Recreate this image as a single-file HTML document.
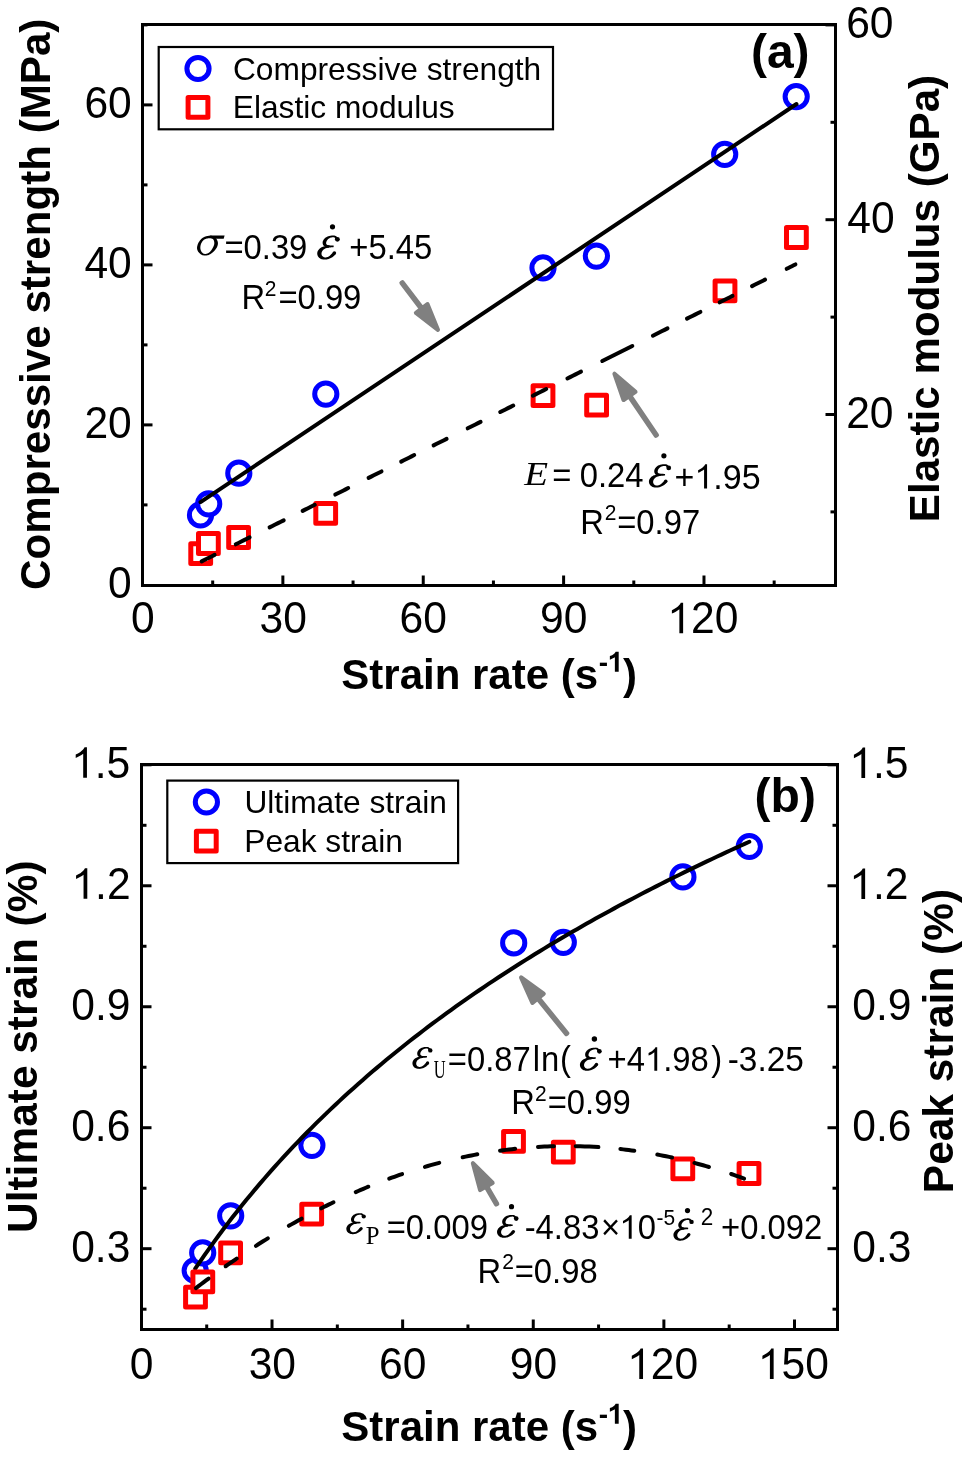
<!DOCTYPE html>
<html><head><meta charset="utf-8"><style>
html,body{margin:0;padding:0;background:#fff;}
body{width:969px;height:1457px;overflow:hidden;font-family:"Liberation Sans",sans-serif;}
svg{display:block;will-change:transform;} text{font-kerning:none;}
</style></head><body>
<svg width="969" height="1457" viewBox="0 0 969 1457">
<rect width="969" height="1457" fill="#fff"/>
<line x1="212.69" y1="585.5" x2="212.69" y2="580.50" stroke="#000" stroke-width="3"/>
<line x1="282.87" y1="585.5" x2="282.87" y2="575.50" stroke="#000" stroke-width="3"/>
<line x1="353.06" y1="585.5" x2="353.06" y2="580.50" stroke="#000" stroke-width="3"/>
<line x1="423.24" y1="585.5" x2="423.24" y2="575.50" stroke="#000" stroke-width="3"/>
<line x1="493.43" y1="585.5" x2="493.43" y2="580.50" stroke="#000" stroke-width="3"/>
<line x1="563.61" y1="585.5" x2="563.61" y2="575.50" stroke="#000" stroke-width="3"/>
<line x1="633.80" y1="585.5" x2="633.80" y2="580.50" stroke="#000" stroke-width="3"/>
<line x1="703.98" y1="585.5" x2="703.98" y2="575.50" stroke="#000" stroke-width="3"/>
<line x1="774.17" y1="585.5" x2="774.17" y2="580.50" stroke="#000" stroke-width="3"/>
<line x1="142.5" y1="504.90" x2="147.50" y2="504.90" stroke="#000" stroke-width="3"/>
<line x1="142.5" y1="424.90" x2="152.50" y2="424.90" stroke="#000" stroke-width="3"/>
<line x1="142.5" y1="344.90" x2="147.50" y2="344.90" stroke="#000" stroke-width="3"/>
<line x1="142.5" y1="264.90" x2="152.50" y2="264.90" stroke="#000" stroke-width="3"/>
<line x1="142.5" y1="184.90" x2="147.50" y2="184.90" stroke="#000" stroke-width="3"/>
<line x1="142.5" y1="104.90" x2="152.50" y2="104.90" stroke="#000" stroke-width="3"/>
<line x1="142.5" y1="24.90" x2="147.50" y2="24.90" stroke="#000" stroke-width="3"/>
<line x1="835.5" y1="511.90" x2="830.50" y2="511.90" stroke="#000" stroke-width="3"/>
<line x1="835.5" y1="414.50" x2="825.50" y2="414.50" stroke="#000" stroke-width="3"/>
<line x1="835.5" y1="317.10" x2="830.50" y2="317.10" stroke="#000" stroke-width="3"/>
<line x1="835.5" y1="219.70" x2="825.50" y2="219.70" stroke="#000" stroke-width="3"/>
<line x1="835.5" y1="122.30" x2="830.50" y2="122.30" stroke="#000" stroke-width="3"/>
<line x1="835.5" y1="24.90" x2="825.50" y2="24.90" stroke="#000" stroke-width="3"/>
<line x1="206.71" y1="1329.5" x2="206.71" y2="1324.50" stroke="#000" stroke-width="3"/>
<line x1="272.02" y1="1329.5" x2="272.02" y2="1319.50" stroke="#000" stroke-width="3"/>
<line x1="337.33" y1="1329.5" x2="337.33" y2="1324.50" stroke="#000" stroke-width="3"/>
<line x1="402.64" y1="1329.5" x2="402.64" y2="1319.50" stroke="#000" stroke-width="3"/>
<line x1="467.95" y1="1329.5" x2="467.95" y2="1324.50" stroke="#000" stroke-width="3"/>
<line x1="533.26" y1="1329.5" x2="533.26" y2="1319.50" stroke="#000" stroke-width="3"/>
<line x1="598.57" y1="1329.5" x2="598.57" y2="1324.50" stroke="#000" stroke-width="3"/>
<line x1="663.88" y1="1329.5" x2="663.88" y2="1319.50" stroke="#000" stroke-width="3"/>
<line x1="729.19" y1="1329.5" x2="729.19" y2="1324.50" stroke="#000" stroke-width="3"/>
<line x1="794.50" y1="1329.5" x2="794.50" y2="1319.50" stroke="#000" stroke-width="3"/>
<line x1="141.5" y1="1309.19" x2="146.50" y2="1309.19" stroke="#000" stroke-width="3"/>
<line x1="837.5" y1="1309.19" x2="832.50" y2="1309.19" stroke="#000" stroke-width="3"/>
<line x1="141.5" y1="1248.70" x2="151.50" y2="1248.70" stroke="#000" stroke-width="3"/>
<line x1="837.5" y1="1248.70" x2="827.50" y2="1248.70" stroke="#000" stroke-width="3"/>
<line x1="141.5" y1="1188.21" x2="146.50" y2="1188.21" stroke="#000" stroke-width="3"/>
<line x1="837.5" y1="1188.21" x2="832.50" y2="1188.21" stroke="#000" stroke-width="3"/>
<line x1="141.5" y1="1127.72" x2="151.50" y2="1127.72" stroke="#000" stroke-width="3"/>
<line x1="837.5" y1="1127.72" x2="827.50" y2="1127.72" stroke="#000" stroke-width="3"/>
<line x1="141.5" y1="1067.24" x2="146.50" y2="1067.24" stroke="#000" stroke-width="3"/>
<line x1="837.5" y1="1067.24" x2="832.50" y2="1067.24" stroke="#000" stroke-width="3"/>
<line x1="141.5" y1="1006.75" x2="151.50" y2="1006.75" stroke="#000" stroke-width="3"/>
<line x1="837.5" y1="1006.75" x2="827.50" y2="1006.75" stroke="#000" stroke-width="3"/>
<line x1="141.5" y1="946.26" x2="146.50" y2="946.26" stroke="#000" stroke-width="3"/>
<line x1="837.5" y1="946.26" x2="832.50" y2="946.26" stroke="#000" stroke-width="3"/>
<line x1="141.5" y1="885.77" x2="151.50" y2="885.77" stroke="#000" stroke-width="3"/>
<line x1="837.5" y1="885.77" x2="827.50" y2="885.77" stroke="#000" stroke-width="3"/>
<line x1="141.5" y1="825.29" x2="146.50" y2="825.29" stroke="#000" stroke-width="3"/>
<line x1="837.5" y1="825.29" x2="832.50" y2="825.29" stroke="#000" stroke-width="3"/>
<line x1="141.5" y1="764.80" x2="151.50" y2="764.80" stroke="#000" stroke-width="3"/>
<line x1="837.5" y1="764.80" x2="827.50" y2="764.80" stroke="#000" stroke-width="3"/>
<rect x="142.5" y="24.5" width="693.0" height="561.0" fill="none" stroke="#000" stroke-width="3"/>
<rect x="141.5" y="764.5" width="696.0" height="565.0" fill="none" stroke="#000" stroke-width="3"/>
<text transform="translate(108.07,598.20) scale(1,1.035)" font-family="Liberation Sans" font-weight="normal" font-size="42.6" fill="#000">0</text>
<text transform="translate(84.38,438.20) scale(1,1.035)" font-family="Liberation Sans" font-weight="normal" font-size="42.6" fill="#000">20</text>
<text transform="translate(84.38,278.20) scale(1,1.035)" font-family="Liberation Sans" font-weight="normal" font-size="42.6" fill="#000">40</text>
<text transform="translate(84.38,118.20) scale(1,1.035)" font-family="Liberation Sans" font-weight="normal" font-size="42.6" fill="#000">60</text>
<text transform="translate(846.16,427.60) scale(1,1.035)" font-family="Liberation Sans" font-weight="normal" font-size="42.6" fill="#000">20</text>
<text transform="translate(847.32,232.80) scale(1,1.035)" font-family="Liberation Sans" font-weight="normal" font-size="42.6" fill="#000">40</text>
<text transform="translate(846.14,38.00) scale(1,1.035)" font-family="Liberation Sans" font-weight="normal" font-size="42.6" fill="#000">60</text>
<text transform="translate(130.95,633.30) scale(1,1.035)" font-family="Liberation Sans" font-weight="normal" font-size="42.6" fill="#000">0</text>
<text transform="translate(259.50,633.30) scale(1,1.035)" font-family="Liberation Sans" font-weight="normal" font-size="42.6" fill="#000">30</text>
<text transform="translate(399.60,633.30) scale(1,1.035)" font-family="Liberation Sans" font-weight="normal" font-size="42.6" fill="#000">60</text>
<text transform="translate(540.05,633.30) scale(1,1.035)" font-family="Liberation Sans" font-weight="normal" font-size="42.6" fill="#000">90</text>
<path transform="translate(667.25,633.30)" d="M12.13,0.00 L15.87,0.00 L15.87,-30.49 L13.52,-30.49 L12.94,-29.37 L12.02,-28.21 L10.65,-26.87 L8.94,-25.54 L6.86,-24.30 L4.64,-23.09 L4.64,-19.72 L6.61,-20.59 L8.53,-21.63 L10.40,-22.76 L12.13,-23.96 Z" fill="#000"/>
<text transform="translate(690.95,633.30) scale(1,1.035)" font-family="Liberation Sans" font-weight="normal" font-size="42.6" fill="#000">20</text>
<text transform="translate(71.15,1261.60) scale(1,1.035)" font-family="Liberation Sans" font-weight="normal" font-size="42.6" fill="#000">0.3</text>
<text transform="translate(71.15,1140.62) scale(1,1.035)" font-family="Liberation Sans" font-weight="normal" font-size="42.6" fill="#000">0.6</text>
<text transform="translate(71.30,1019.65) scale(1,1.035)" font-family="Liberation Sans" font-weight="normal" font-size="42.6" fill="#000">0.9</text>
<path transform="translate(71.42,898.67)" d="M12.13,0.00 L15.87,0.00 L15.87,-30.49 L13.52,-30.49 L12.94,-29.37 L12.02,-28.21 L10.65,-26.87 L8.94,-25.54 L6.86,-24.30 L4.64,-23.09 L4.64,-19.72 L6.61,-20.59 L8.53,-21.63 L10.40,-22.76 L12.13,-23.96 Z" fill="#000"/>
<text transform="translate(95.11,898.67) scale(1,1.035)" font-family="Liberation Sans" font-weight="normal" font-size="42.6" fill="#000">.2</text>
<path transform="translate(71.07,777.70)" d="M12.13,0.00 L15.87,0.00 L15.87,-30.49 L13.52,-30.49 L12.94,-29.37 L12.02,-28.21 L10.65,-26.87 L8.94,-25.54 L6.86,-24.30 L4.64,-23.09 L4.64,-19.72 L6.61,-20.59 L8.53,-21.63 L10.40,-22.76 L12.13,-23.96 Z" fill="#000"/>
<text transform="translate(94.76,777.70) scale(1,1.035)" font-family="Liberation Sans" font-weight="normal" font-size="42.6" fill="#000">.5</text>
<text transform="translate(852.24,1261.80) scale(1,1.035)" font-family="Liberation Sans" font-weight="normal" font-size="42.6" fill="#000">0.3</text>
<text transform="translate(852.24,1140.82) scale(1,1.035)" font-family="Liberation Sans" font-weight="normal" font-size="42.6" fill="#000">0.6</text>
<text transform="translate(852.24,1019.85) scale(1,1.035)" font-family="Liberation Sans" font-weight="normal" font-size="42.6" fill="#000">0.9</text>
<path transform="translate(849.26,898.88)" d="M12.13,0.00 L15.87,0.00 L15.87,-30.49 L13.52,-30.49 L12.94,-29.37 L12.02,-28.21 L10.65,-26.87 L8.94,-25.54 L6.86,-24.30 L4.64,-23.09 L4.64,-19.72 L6.61,-20.59 L8.53,-21.63 L10.40,-22.76 L12.13,-23.96 Z" fill="#000"/>
<text transform="translate(872.95,898.88) scale(1,1.035)" font-family="Liberation Sans" font-weight="normal" font-size="42.6" fill="#000">.2</text>
<path transform="translate(849.26,777.90)" d="M12.13,0.00 L15.87,0.00 L15.87,-30.49 L13.52,-30.49 L12.94,-29.37 L12.02,-28.21 L10.65,-26.87 L8.94,-25.54 L6.86,-24.30 L4.64,-23.09 L4.64,-19.72 L6.61,-20.59 L8.53,-21.63 L10.40,-22.76 L12.13,-23.96 Z" fill="#000"/>
<text transform="translate(872.95,777.90) scale(1,1.035)" font-family="Liberation Sans" font-weight="normal" font-size="42.6" fill="#000">.5</text>
<text transform="translate(129.85,1378.90) scale(1,1.035)" font-family="Liberation Sans" font-weight="normal" font-size="42.6" fill="#000">0</text>
<text transform="translate(248.65,1378.90) scale(1,1.035)" font-family="Liberation Sans" font-weight="normal" font-size="42.6" fill="#000">30</text>
<text transform="translate(379.00,1378.90) scale(1,1.035)" font-family="Liberation Sans" font-weight="normal" font-size="42.6" fill="#000">60</text>
<text transform="translate(509.70,1378.90) scale(1,1.035)" font-family="Liberation Sans" font-weight="normal" font-size="42.6" fill="#000">90</text>
<path transform="translate(627.15,1378.90)" d="M12.13,0.00 L15.87,0.00 L15.87,-30.49 L13.52,-30.49 L12.94,-29.37 L12.02,-28.21 L10.65,-26.87 L8.94,-25.54 L6.86,-24.30 L4.64,-23.09 L4.64,-19.72 L6.61,-20.59 L8.53,-21.63 L10.40,-22.76 L12.13,-23.96 Z" fill="#000"/>
<text transform="translate(650.85,1378.90) scale(1,1.035)" font-family="Liberation Sans" font-weight="normal" font-size="42.6" fill="#000">20</text>
<path transform="translate(757.77,1378.90)" d="M12.13,0.00 L15.87,0.00 L15.87,-30.49 L13.52,-30.49 L12.94,-29.37 L12.02,-28.21 L10.65,-26.87 L8.94,-25.54 L6.86,-24.30 L4.64,-23.09 L4.64,-19.72 L6.61,-20.59 L8.53,-21.63 L10.40,-22.76 L12.13,-23.96 Z" fill="#000"/>
<text transform="translate(781.47,1378.90) scale(1,1.035)" font-family="Liberation Sans" font-weight="normal" font-size="42.6" fill="#000">50</text>
<text transform="translate(49.70,589.99) rotate(-90)" font-family="Liberation Sans" font-weight="bold" font-style="normal" font-size="42.15">Compressive strength (MPa)</text>
<text transform="translate(938.70,522.14) rotate(-90)" font-family="Liberation Sans" font-weight="bold" font-style="normal" font-size="42.15">Elastic modulus (GPa)</text>
<text transform="translate(36.70,1232.95) rotate(-90)" font-family="Liberation Sans" font-weight="bold" font-style="normal" font-size="42.45">Ultimate strain (%)</text>
<text transform="translate(952.80,1193.16) rotate(-90)" font-family="Liberation Sans" font-weight="bold" font-style="normal" font-size="42.45">Peak strain (%)</text>
<text transform="translate(341.29,689.20)" font-family="Liberation Sans" font-weight="bold" font-size="42" fill="#000">Strain rate (s</text>
<text transform="translate(598.71,671.70)" font-family="Liberation Sans" font-weight="bold" font-size="28" fill="#000">-</text>
<path transform="translate(608.03,671.70)" d="M6.84,0.00 L10.66,0.00 L10.66,-20.04 L7.66,-20.04 L7.18,-19.14 L6.43,-18.25 L5.47,-17.36 L4.10,-16.47 L1.83,-15.70 L1.83,-12.03 L3.42,-12.65 L4.92,-13.33 L6.02,-13.95 L6.84,-14.49 Z" fill="#000"/>
<text transform="translate(622.91,689.20)" font-family="Liberation Sans" font-weight="bold" font-size="42" fill="#000">)</text>
<text transform="translate(341.29,1441.20)" font-family="Liberation Sans" font-weight="bold" font-size="42" fill="#000">Strain rate (s</text>
<text transform="translate(598.71,1423.70)" font-family="Liberation Sans" font-weight="bold" font-size="28" fill="#000">-</text>
<path transform="translate(608.03,1423.70)" d="M6.84,0.00 L10.66,0.00 L10.66,-20.04 L7.66,-20.04 L7.18,-19.14 L6.43,-18.25 L5.47,-17.36 L4.10,-16.47 L1.83,-15.70 L1.83,-12.03 L3.42,-12.65 L4.92,-13.33 L6.02,-13.95 L6.84,-14.49 Z" fill="#000"/>
<text transform="translate(622.91,1441.20)" font-family="Liberation Sans" font-weight="bold" font-size="42" fill="#000">)</text>
<text transform="translate(750.91,67.60)" font-family="Liberation Sans" font-weight="bold" font-size="48" fill="#000">(a)</text>
<text transform="translate(754.61,811.70)" font-family="Liberation Sans" font-weight="bold" font-size="48" fill="#000">(b)</text>
<rect x="158.7" y="47" width="394.3" height="82.3" fill="#fff" stroke="#000" stroke-width="2.2"/>
<circle cx="198.00" cy="68.50" r="11.1" fill="#fff" stroke="#0000ff" stroke-width="5"/>
<rect x="188.10" y="97.40" width="19.8" height="19.8" fill="#fff" stroke="#ff0000" stroke-width="5" stroke-linejoin="round"/>
<text transform="translate(232.99,80.00)" font-family="Liberation Sans" font-weight="normal" font-size="31.7" fill="#000">Compressive strength</text>
<text transform="translate(232.80,118.40)" font-family="Liberation Sans" font-weight="normal" font-size="31.7" fill="#000">Elastic modulus</text>
<rect x="167.3" y="780.6" width="290.8" height="82.5" fill="#fff" stroke="#000" stroke-width="2.2"/>
<circle cx="206.40" cy="802.00" r="11.1" fill="#fff" stroke="#0000ff" stroke-width="5"/>
<rect x="196.40" y="831.30" width="19.8" height="19.8" fill="#fff" stroke="#ff0000" stroke-width="5" stroke-linejoin="round"/>
<text transform="translate(244.45,813.00)" font-family="Liberation Sans" font-weight="normal" font-size="31.7" fill="#000">Ultimate strain</text>
<text transform="translate(244.30,852.00)" font-family="Liberation Sans" font-weight="normal" font-size="31.7" fill="#000">Peak strain</text>
<circle cx="200.50" cy="514.90" r="11.1" fill="#fff" stroke="#0000ff" stroke-width="5"/>
<circle cx="208.70" cy="503.90" r="11.1" fill="#fff" stroke="#0000ff" stroke-width="5"/>
<circle cx="238.80" cy="473.20" r="11.1" fill="#fff" stroke="#0000ff" stroke-width="5"/>
<circle cx="325.80" cy="394.10" r="11.1" fill="#fff" stroke="#0000ff" stroke-width="5"/>
<circle cx="543.00" cy="267.80" r="11.1" fill="#fff" stroke="#0000ff" stroke-width="5"/>
<circle cx="596.40" cy="256.10" r="11.1" fill="#fff" stroke="#0000ff" stroke-width="5"/>
<circle cx="724.70" cy="154.30" r="11.1" fill="#fff" stroke="#0000ff" stroke-width="5"/>
<circle cx="796.20" cy="96.60" r="11.1" fill="#fff" stroke="#0000ff" stroke-width="5"/>
<line x1="200.5" y1="502.2" x2="796.5" y2="104" stroke="#000" stroke-width="4.0" stroke-linecap="round"/>
<rect x="190.80" y="543.80" width="19.8" height="19.8" fill="#fff" stroke="#ff0000" stroke-width="5" stroke-linejoin="round"/>
<rect x="198.50" y="533.60" width="19.8" height="19.8" fill="#fff" stroke="#ff0000" stroke-width="5" stroke-linejoin="round"/>
<rect x="228.70" y="527.60" width="19.8" height="19.8" fill="#fff" stroke="#ff0000" stroke-width="5" stroke-linejoin="round"/>
<rect x="315.80" y="503.40" width="19.8" height="19.8" fill="#fff" stroke="#ff0000" stroke-width="5" stroke-linejoin="round"/>
<rect x="533.10" y="385.70" width="19.8" height="19.8" fill="#fff" stroke="#ff0000" stroke-width="5" stroke-linejoin="round"/>
<rect x="586.70" y="395.20" width="19.8" height="19.8" fill="#fff" stroke="#ff0000" stroke-width="5" stroke-linejoin="round"/>
<rect x="715.10" y="281.00" width="19.8" height="19.8" fill="#fff" stroke="#ff0000" stroke-width="5" stroke-linejoin="round"/>
<rect x="786.50" y="227.60" width="19.8" height="19.8" fill="#fff" stroke="#ff0000" stroke-width="5" stroke-linejoin="round"/>
<path d="M201.69,561.36 L204.27,560.06 L206.86,558.77 L209.44,557.48 L212.03,556.19 L214.61,554.89" fill="none" stroke="#000" stroke-width="4.0" stroke-linecap="round" stroke-linejoin="round"/>
<path d="M235.79,544.30 L238.55,542.92 L241.32,541.54 L244.08,540.16 L246.85,538.77 L249.61,537.39" fill="none" stroke="#000" stroke-width="4.0" stroke-linecap="round" stroke-linejoin="round"/>
<path d="M269.59,527.40 L272.41,525.99 L275.24,524.57 L278.06,523.16 L280.89,521.75 L283.71,520.34" fill="none" stroke="#000" stroke-width="4.0" stroke-linecap="round" stroke-linejoin="round"/>
<path d="M302.69,510.85 L305.09,509.64 L307.50,508.44 L309.90,507.24 L312.31,506.04 L314.71,504.83" fill="none" stroke="#000" stroke-width="4.0" stroke-linecap="round" stroke-linejoin="round"/>
<path d="M335.29,494.54 L337.87,493.25 L340.46,491.96 L343.04,490.67 L345.63,489.37 L348.21,488.08" fill="none" stroke="#000" stroke-width="4.0" stroke-linecap="round" stroke-linejoin="round"/>
<path d="M368.59,477.89 L371.17,476.60 L373.76,475.31 L376.34,474.01 L378.93,472.72 L381.51,471.43" fill="none" stroke="#000" stroke-width="4.0" stroke-linecap="round" stroke-linejoin="round"/>
<path d="M401.19,461.59 L403.79,460.29 L406.40,458.98 L409.00,457.68 L411.61,456.38 L414.21,455.08" fill="none" stroke="#000" stroke-width="4.0" stroke-linecap="round" stroke-linejoin="round"/>
<path d="M433.59,445.39 L436.19,444.08 L438.80,442.78 L441.40,441.48 L444.01,440.18 L446.61,438.87" fill="none" stroke="#000" stroke-width="4.0" stroke-linecap="round" stroke-linejoin="round"/>
<path d="M467.69,428.33 L470.27,427.04 L472.86,425.75 L475.44,424.46 L478.03,423.16 L480.61,421.87" fill="none" stroke="#000" stroke-width="4.0" stroke-linecap="round" stroke-linejoin="round"/>
<path d="M500.29,412.03 L502.87,410.74 L505.46,409.45 L508.04,408.15 L510.63,406.86 L513.21,405.57" fill="none" stroke="#000" stroke-width="4.0" stroke-linecap="round" stroke-linejoin="round"/>
<path d="M532.89,395.73 L535.55,394.40 L538.22,393.06 L540.88,391.73 L543.55,390.40 L546.21,389.07" fill="none" stroke="#000" stroke-width="4.0" stroke-linecap="round" stroke-linejoin="round"/>
<path d="M567.39,378.47 L570.11,377.11 L572.84,375.75 L575.56,374.39 L578.29,373.02 L581.01,371.66" fill="none" stroke="#000" stroke-width="4.0" stroke-linecap="round" stroke-linejoin="round"/>
<path d="M602.29,361.02 L608.29,358.02 L614.30,355.02 L620.30,352.01 L626.31,349.01 L632.31,346.01" fill="none" stroke="#000" stroke-width="4.0" stroke-linecap="round" stroke-linejoin="round"/>
<path d="M652.89,335.72 L655.81,334.26 L658.74,332.79 L661.66,331.33 L664.59,329.87 L667.51,328.41" fill="none" stroke="#000" stroke-width="4.0" stroke-linecap="round" stroke-linejoin="round"/>
<path d="M686.99,318.66 L689.67,317.32 L692.36,315.98 L695.04,314.64 L697.73,313.29 L700.41,311.95" fill="none" stroke="#000" stroke-width="4.0" stroke-linecap="round" stroke-linejoin="round"/>
<path d="M719.69,302.31 L722.25,301.03 L724.82,299.75 L727.38,298.46 L729.95,297.18 L732.51,295.90" fill="none" stroke="#000" stroke-width="4.0" stroke-linecap="round" stroke-linejoin="round"/>
<path d="M752.09,286.11 L754.67,284.82 L757.26,283.52 L759.84,282.23 L762.43,280.94 L765.01,279.65" fill="none" stroke="#000" stroke-width="4.0" stroke-linecap="round" stroke-linejoin="round"/>
<path d="M786.69,268.81 L788.43,267.93 L790.18,267.06 L791.92,266.19 L793.67,265.32 L795.41,264.44" fill="none" stroke="#000" stroke-width="4.0" stroke-linecap="round" stroke-linejoin="round"/>
<circle cx="195.20" cy="1270.50" r="11.1" fill="#fff" stroke="#0000ff" stroke-width="5"/>
<circle cx="202.70" cy="1252.80" r="11.1" fill="#fff" stroke="#0000ff" stroke-width="5"/>
<circle cx="230.70" cy="1215.80" r="11.1" fill="#fff" stroke="#0000ff" stroke-width="5"/>
<circle cx="311.90" cy="1145.30" r="11.1" fill="#fff" stroke="#0000ff" stroke-width="5"/>
<circle cx="513.70" cy="942.90" r="11.1" fill="#fff" stroke="#0000ff" stroke-width="5"/>
<circle cx="563.30" cy="942.30" r="11.1" fill="#fff" stroke="#0000ff" stroke-width="5"/>
<circle cx="682.90" cy="876.90" r="11.1" fill="#fff" stroke="#0000ff" stroke-width="5"/>
<circle cx="749.30" cy="846.50" r="11.1" fill="#fff" stroke="#0000ff" stroke-width="5"/>
<path d="M195.20,1268.74 L199.86,1261.90 L204.51,1255.18 L209.17,1248.59 L213.83,1242.12 L218.48,1235.76 L223.14,1229.52 L227.79,1223.38 L232.45,1217.34 L237.11,1211.41 L241.76,1205.57 L246.42,1199.82 L251.08,1194.17 L255.73,1188.60 L260.39,1183.12 L265.04,1177.73 L269.70,1172.41 L274.36,1167.17 L279.01,1162.00 L283.67,1156.91 L288.33,1151.89 L292.98,1146.94 L297.64,1142.06 L302.29,1137.25 L306.95,1132.49 L311.61,1127.80 L316.26,1123.17 L320.92,1118.60 L325.58,1114.09 L330.23,1109.63 L334.89,1105.23 L339.55,1100.88 L344.20,1096.59 L348.86,1092.34 L353.51,1088.15 L358.17,1084.00 L362.83,1079.90 L367.48,1075.85 L372.14,1071.84 L376.80,1067.88 L381.45,1063.96 L386.11,1060.08 L390.76,1056.25 L395.42,1052.45 L400.08,1048.70 L404.73,1044.98 L409.39,1041.30 L414.05,1037.66 L418.70,1034.06 L423.36,1030.49 L428.02,1026.96 L432.67,1023.46 L437.33,1020.00 L441.98,1016.57 L446.64,1013.17 L451.30,1009.80 L455.95,1006.47 L460.61,1003.16 L465.27,999.89 L469.92,996.65 L474.58,993.43 L479.23,990.25 L483.89,987.09 L488.55,983.96 L493.20,980.85 L497.86,977.78 L502.52,974.73 L507.17,971.70 L511.83,968.70 L516.48,965.73 L521.14,962.78 L525.80,959.85 L530.45,956.95 L535.11,954.07 L539.77,951.22 L544.42,948.38 L549.08,945.57 L553.74,942.78 L558.39,940.02 L563.05,937.27 L567.70,934.54 L572.36,931.84 L577.02,929.16 L581.67,926.49 L586.33,923.85 L590.99,921.22 L595.64,918.62 L600.30,916.03 L604.95,913.46 L609.61,910.91 L614.27,908.38 L618.92,905.86 L623.58,903.37 L628.24,900.89 L632.89,898.42 L637.55,895.98 L642.21,893.55 L646.86,891.14 L651.52,888.74 L656.17,886.36 L660.83,883.99 L665.49,881.64 L670.14,879.31 L674.80,876.99 L679.46,874.69 L684.11,872.40 L688.77,870.12 L693.42,867.86 L698.08,865.62 L702.74,863.39 L707.39,861.17 L712.05,858.96 L716.71,856.77 L721.36,854.59 L726.02,852.43 L730.67,850.28 L735.33,848.14 L739.99,846.01 L744.64,843.90 L749.30,841.80" fill="none" stroke="#000" stroke-width="4.0" stroke-linecap="round" stroke-linejoin="round"/>
<rect x="185.60" y="1287.20" width="19.8" height="19.8" fill="#fff" stroke="#ff0000" stroke-width="5" stroke-linejoin="round"/>
<rect x="192.90" y="1272.00" width="19.8" height="19.8" fill="#fff" stroke="#ff0000" stroke-width="5" stroke-linejoin="round"/>
<rect x="220.70" y="1242.90" width="19.8" height="19.8" fill="#fff" stroke="#ff0000" stroke-width="5" stroke-linejoin="round"/>
<rect x="301.80" y="1204.30" width="19.8" height="19.8" fill="#fff" stroke="#ff0000" stroke-width="5" stroke-linejoin="round"/>
<rect x="503.60" y="1131.50" width="19.8" height="19.8" fill="#fff" stroke="#ff0000" stroke-width="5" stroke-linejoin="round"/>
<rect x="553.40" y="1142.20" width="19.8" height="19.8" fill="#fff" stroke="#ff0000" stroke-width="5" stroke-linejoin="round"/>
<rect x="672.90" y="1158.90" width="19.8" height="19.8" fill="#fff" stroke="#ff0000" stroke-width="5" stroke-linejoin="round"/>
<rect x="739.10" y="1163.60" width="19.8" height="19.8" fill="#fff" stroke="#ff0000" stroke-width="5" stroke-linejoin="round"/>
<path d="M195.89,1288.11 L198.43,1286.17 L200.97,1284.25 L203.51,1282.33 L206.05,1280.43 L208.59,1278.55" fill="none" stroke="#000" stroke-width="4.0" stroke-linecap="round" stroke-linejoin="round"/>
<path d="M225.63,1266.24 L227.85,1264.68 L230.08,1263.13 L232.30,1261.59 L234.52,1260.06 L236.74,1258.54" fill="none" stroke="#000" stroke-width="4.0" stroke-linecap="round" stroke-linejoin="round"/>
<path d="M255.98,1245.81 L258.34,1244.30 L260.71,1242.80 L263.07,1241.31 L265.43,1239.83 L267.80,1238.37" fill="none" stroke="#000" stroke-width="4.0" stroke-linecap="round" stroke-linejoin="round"/>
<path d="M288.83,1225.84 L291.39,1224.37 L293.96,1222.92 L296.52,1221.48 L299.08,1220.06 L301.64,1218.65" fill="none" stroke="#000" stroke-width="4.0" stroke-linecap="round" stroke-linejoin="round"/>
<path d="M321.28,1208.30 L323.72,1207.06 L326.17,1205.84 L328.61,1204.64 L331.05,1203.44 L333.50,1202.26" fill="none" stroke="#000" stroke-width="4.0" stroke-linecap="round" stroke-linejoin="round"/>
<path d="M355.73,1192.06 L358.25,1190.96 L360.78,1189.88 L363.30,1188.82 L365.82,1187.76 L368.35,1186.72" fill="none" stroke="#000" stroke-width="4.0" stroke-linecap="round" stroke-linejoin="round"/>
<path d="M389.18,1178.64 L391.76,1177.69 L394.35,1176.77 L396.93,1175.85 L399.52,1174.95 L402.10,1174.07" fill="none" stroke="#000" stroke-width="4.0" stroke-linecap="round" stroke-linejoin="round"/>
<path d="M424.92,1166.85 L427.79,1166.02 L430.66,1165.20 L433.53,1164.40 L436.39,1163.62 L439.26,1162.86" fill="none" stroke="#000" stroke-width="4.0" stroke-linecap="round" stroke-linejoin="round"/>
<path d="M462.65,1157.26 L465.59,1156.64 L468.52,1156.04 L471.46,1155.45 L474.40,1154.88 L477.33,1154.33" fill="none" stroke="#000" stroke-width="4.0" stroke-linecap="round" stroke-linejoin="round"/>
<path d="M500.08,1150.67 L503.09,1150.26 L506.09,1149.87 L509.10,1149.51 L512.10,1149.16 L515.11,1148.83" fill="none" stroke="#000" stroke-width="4.0" stroke-linecap="round" stroke-linejoin="round"/>
<path d="M538.00,1146.93 L541.18,1146.75 L544.36,1146.59 L547.54,1146.46 L550.72,1146.34 L553.90,1146.25" fill="none" stroke="#000" stroke-width="4.0" stroke-linecap="round" stroke-linejoin="round"/>
<path d="M575.70,1146.16 L580.24,1146.27 L584.78,1146.41 L589.32,1146.60 L593.86,1146.84 L598.40,1147.11" fill="none" stroke="#000" stroke-width="4.0" stroke-linecap="round" stroke-linejoin="round"/>
<path d="M620.39,1149.05 L623.18,1149.37 L625.96,1149.70 L628.75,1150.05 L631.53,1150.42 L634.32,1150.80" fill="none" stroke="#000" stroke-width="4.0" stroke-linecap="round" stroke-linejoin="round"/>
<path d="M657.27,1154.54 L660.22,1155.11 L663.18,1155.69 L666.14,1156.28 L669.09,1156.90 L672.05,1157.53" fill="none" stroke="#000" stroke-width="4.0" stroke-linecap="round" stroke-linejoin="round"/>
<path d="M694.44,1162.92 L697.35,1163.70 L700.25,1164.49 L703.16,1165.30 L706.07,1166.13 L708.98,1166.98" fill="none" stroke="#000" stroke-width="4.0" stroke-linecap="round" stroke-linejoin="round"/>
<path d="M731.20,1174.01 L733.78,1174.90 L736.37,1175.80 L738.95,1176.71 L741.54,1177.64 L744.12,1178.58" fill="none" stroke="#000" stroke-width="4.0" stroke-linecap="round" stroke-linejoin="round"/>
<path d="M401.45,282.96 L421.18,308.90 L415.97,312.86 L437.91,329.81 L427.43,304.14 L422.22,308.11 L402.49,282.18 Z" fill="#808080" stroke="#808080" stroke-width="4.2" stroke-linejoin="round"/>
<path d="M656.96,435.10 L630.07,395.55 L635.48,391.86 L614.48,373.77 L623.58,399.96 L628.99,396.28 L655.88,435.83 Z" fill="#808080" stroke="#808080" stroke-width="4.2" stroke-linejoin="round"/>
<path d="M567.28,1033.26 L538.55,997.91 L543.63,993.77 L521.16,977.54 L532.45,1002.86 L537.54,998.73 L566.27,1034.08 Z" fill="#808080" stroke="#808080" stroke-width="4.2" stroke-linejoin="round"/>
<path d="M497.21,1203.86 L486.91,1186.11 L492.58,1182.82 L472.92,1163.27 L480.12,1190.04 L485.79,1186.76 L496.08,1204.51 Z" fill="#808080" stroke="#808080" stroke-width="4.2" stroke-linejoin="round"/>
<path d="M197.06,248.73 L197.22,249.53 L197.47,250.30 L197.80,251.01 L198.20,251.68 L198.64,252.30 L199.11,252.86 L199.61,253.37 L200.13,253.83 L200.67,254.23 L201.25,254.59 L201.87,254.89 L202.50,255.15 L203.16,255.36 L203.83,255.51 L204.51,255.60 L205.19,255.62 L205.87,255.59 L206.56,255.50 L207.28,255.36 L208.00,255.17 L208.73,254.92 L209.46,254.62 L210.18,254.26 L210.89,253.84 L211.60,253.34 L212.33,252.76 L213.05,252.12 L213.76,251.44 L214.43,250.72 L215.07,250.00 L215.64,249.29 L216.13,248.60 L216.55,247.92 L216.93,247.24 L217.26,246.54 L217.53,245.83 L217.74,245.10 L217.88,244.35 L217.94,243.59 L217.91,242.82 L217.80,242.05 L217.59,241.28 L217.30,240.52 L216.96,239.79 L216.55,239.09 L216.09,238.44 L215.57,237.84 L215.00,237.30 L214.38,236.86 L213.72,236.51 L213.03,236.23 L212.32,236.02 L211.60,235.87 L210.87,235.77 L210.14,235.72 L209.41,235.72 L208.66,235.78 L207.88,235.88 L207.07,236.03 L206.26,236.23 L205.44,236.48 L204.65,236.78 L203.88,237.13 L203.15,237.53 L202.47,237.99 L201.82,238.50 L201.21,239.07 L200.62,239.67 L200.08,240.30 L199.57,240.96 L199.12,241.64 L198.71,242.33 L198.33,243.05 L197.99,243.81 L197.68,244.60 L197.42,245.42 L197.22,246.25 L197.08,247.08 L197.03,247.91 Z M200.35,247.91 L200.36,247.35 L200.40,246.73 L200.47,246.09 L200.58,245.42 L200.74,244.76 L200.93,244.13 L201.16,243.54 L201.43,242.98 L201.76,242.40 L202.12,241.82 L202.53,241.27 L202.96,240.75 L203.43,240.28 L203.91,239.86 L204.40,239.51 L204.93,239.21 L205.52,238.95 L206.17,238.73 L206.85,238.55 L207.54,238.42 L208.22,238.32 L208.87,238.27 L209.46,238.25 L210.03,238.27 L210.59,238.32 L211.14,238.40 L211.66,238.52 L212.13,238.67 L212.55,238.86 L212.90,239.08 L213.17,239.33 L213.40,239.63 L213.63,240.03 L213.83,240.51 L214.00,241.03 L214.13,241.57 L214.22,242.11 L214.28,242.61 L214.30,243.06 L214.29,243.47 L214.26,243.89 L214.19,244.33 L214.08,244.79 L213.94,245.29 L213.75,245.81 L213.52,246.36 L213.26,246.93 L212.94,247.55 L212.55,248.24 L212.11,248.96 L211.64,249.69 L211.13,250.40 L210.61,251.06 L210.10,251.65 L209.60,252.13 L209.09,252.54 L208.55,252.91 L207.98,253.22 L207.41,253.49 L206.83,253.70 L206.26,253.85 L205.71,253.94 L205.19,253.97 L204.71,253.93 L204.22,253.81 L203.74,253.64 L203.28,253.41 L202.84,253.14 L202.44,252.83 L202.08,252.50 L201.76,252.15 L201.48,251.76 L201.22,251.33 L200.98,250.85 L200.79,250.35 L200.63,249.84 L200.50,249.34 L200.42,248.86 L200.37,248.40 Z " fill="#000" fill-rule="evenodd"/><path d="M209.44,235.38 L224.60,235.38 L223.67,238.84 L213.08,238.84 Z " fill="#000"/>
<text transform="translate(224.40,258.70) scale(1,1.045)" font-family="Liberation Sans" font-weight="normal" font-size="32.8" fill="#000">=0.39</text>
<path d="M337.56,237.60 L337.36,237.43 L337.17,237.25 L336.97,237.04 L336.74,236.80 L336.49,236.56 L336.21,236.31 L335.89,236.07 L335.54,235.88 L335.19,235.74 L334.85,235.64 L334.51,235.57 L334.18,235.53 L333.84,235.51 L333.50,235.51 L333.16,235.52 L332.79,235.53 L332.40,235.54 L331.97,235.56 L331.51,235.60 L331.03,235.64 L330.53,235.70 L330.03,235.78 L329.53,235.88 L329.04,236.00 L328.57,236.15 L328.10,236.31 L327.62,236.49 L327.15,236.69 L326.69,236.92 L326.23,237.17 L325.79,237.45 L325.37,237.77 L324.97,238.12 L324.59,238.49 L324.23,238.89 L323.89,239.30 L323.59,239.74 L323.32,240.18 L323.08,240.64 L322.89,241.12 L322.75,241.62 L322.66,242.12 L322.62,242.62 L322.63,243.11 L322.69,243.58 L322.79,244.05 L322.93,244.50 L323.13,244.94 L323.39,245.37 L323.70,245.75 L324.04,246.06 L324.39,246.32 L324.75,246.53 L325.10,246.72 L325.45,246.87 L325.80,247.02 L326.20,247.15 L326.59,247.25 L326.97,247.31 L327.33,247.35 L327.67,247.37 L327.99,247.39 L328.29,247.41 L328.59,247.44 L329.02,245.54 L328.70,245.43 L328.37,245.33 L328.05,245.24 L327.76,245.16 L327.50,245.06 L327.28,244.97 L327.11,244.87 L326.96,244.75 L326.79,244.61 L326.62,244.44 L326.46,244.26 L326.34,244.09 L326.25,243.93 L326.19,243.79 L326.17,243.69 L326.16,243.60 L326.16,243.49 L326.14,243.33 L326.13,243.16 L326.13,242.97 L326.14,242.77 L326.17,242.57 L326.20,242.37 L326.24,242.18 L326.30,241.96 L326.40,241.69 L326.52,241.39 L326.66,241.07 L326.83,240.75 L327.01,240.44 L327.20,240.15 L327.39,239.88 L327.61,239.63 L327.86,239.37 L328.13,239.12 L328.43,238.87 L328.76,238.63 L329.09,238.40 L329.44,238.20 L329.78,238.02 L330.12,237.86 L330.50,237.73 L330.90,237.61 L331.32,237.51 L331.74,237.43 L332.14,237.36 L332.53,237.31 L332.88,237.28 L333.20,237.27 L333.48,237.27 L333.74,237.28 L333.95,237.31 L334.14,237.36 L334.31,237.42 L334.45,237.50 L334.58,237.58 L334.68,237.67 L334.77,237.80 L334.87,237.97 L334.99,238.17 L335.12,238.42 L335.27,238.68 L335.44,238.97 L335.62,239.24 Z " fill="#000"/>
<path d="M328.66,245.82 L328.19,245.86 L327.73,245.89 L327.24,245.92 L326.74,245.95 L326.23,245.99 L325.69,246.05 L325.13,246.15 L324.57,246.28 L324.02,246.43 L323.45,246.59 L322.87,246.78 L322.28,247.00 L321.69,247.25 L321.11,247.54 L320.55,247.88 L320.02,248.27 L319.53,248.70 L319.08,249.16 L318.66,249.65 L318.28,250.18 L317.93,250.75 L317.64,251.35 L317.42,251.98 L317.27,252.65 L317.22,253.33 L317.25,254.00 L317.36,254.65 L317.53,255.28 L317.77,255.89 L318.08,256.48 L318.45,257.03 L318.88,257.53 L319.36,257.97 L319.90,258.34 L320.47,258.65 L321.06,258.91 L321.67,259.13 L322.28,259.31 L322.90,259.44 L323.52,259.54 L324.15,259.59 L324.79,259.60 L325.43,259.57 L326.07,259.50 L326.71,259.41 L327.34,259.30 L327.94,259.17 L328.54,259.01 L329.13,258.81 L329.71,258.58 L330.27,258.33 L330.82,258.06 L331.34,257.77 L331.83,257.49 L332.30,257.20 L332.74,256.92 L333.17,256.61 L333.58,256.27 L333.96,255.94 L334.30,255.61 L334.62,255.29 L334.92,254.99 L335.21,254.71 L335.52,254.42 L333.14,252.11 L332.84,252.46 L332.54,252.81 L332.26,253.14 L332.00,253.46 L331.74,253.76 L331.48,254.05 L331.22,254.33 L330.92,254.62 L330.57,254.94 L330.20,255.29 L329.83,255.63 L329.45,255.96 L329.06,256.27 L328.67,256.55 L328.27,256.79 L327.86,256.97 L327.40,257.12 L326.90,257.25 L326.38,257.34 L325.86,257.40 L325.34,257.43 L324.84,257.41 L324.39,257.35 L323.99,257.24 L323.62,257.09 L323.26,256.87 L322.91,256.62 L322.59,256.33 L322.31,256.03 L322.07,255.73 L321.89,255.45 L321.78,255.22 L321.70,255.00 L321.63,254.76 L321.57,254.49 L321.53,254.21 L321.51,253.94 L321.50,253.68 L321.51,253.44 L321.53,253.24 L321.55,253.03 L321.60,252.77 L321.68,252.46 L321.80,252.12 L321.94,251.76 L322.11,251.41 L322.30,251.07 L322.49,250.77 L322.71,250.48 L322.99,250.18 L323.32,249.86 L323.69,249.55 L324.10,249.25 L324.52,248.97 L324.95,248.71 L325.36,248.48 L325.75,248.30 L326.15,248.16 L326.57,248.04 L327.01,247.94 L327.47,247.85 L327.96,247.77 L328.45,247.67 L328.94,247.56 Z " fill="#000"/>
<path d="M326.61,247.66 L327.06,247.63 L327.52,247.61 L327.98,247.58 L328.44,247.55 L328.89,247.53 L329.34,247.50 L329.79,247.47 L330.24,247.43 L330.68,247.40 L331.11,247.36 L331.54,247.32 L331.96,247.28 L332.39,247.24 L332.81,247.19 L333.24,247.15 L333.66,247.11 L333.63,245.55 L333.20,245.53 L332.77,245.51 L332.35,245.48 L331.92,245.46 L331.49,245.44 L331.06,245.42 L330.63,245.40 L330.19,245.39 L329.75,245.37 L329.30,245.36 L328.84,245.35 L328.39,245.35 L327.93,245.34 L327.47,245.33 L327.01,245.33 L326.56,245.32 Z " fill="#000"/>
<circle cx="337.40" cy="239.35" r="2.44" fill="#000"/>
<circle cx="334.41" cy="253.03" r="1.76" fill="#000"/>
<circle cx="332.5" cy="226.8" r="2.6" fill="#000"/>
<text transform="translate(349.30,258.70) scale(1,1.045)" font-family="Liberation Sans" font-weight="normal" font-size="32.8" fill="#000">+5.45</text>
<text transform="translate(241.41,308.80) scale(1,1.045)" font-family="Liberation Sans" font-weight="normal" font-size="32.8" fill="#000">R</text>
<text transform="translate(264.84,296.00) scale(1,1.045)" font-family="Liberation Sans" font-weight="normal" font-size="21" fill="#000">2</text>
<text transform="translate(278.40,308.80) scale(1,1.045)" font-family="Liberation Sans" font-weight="normal" font-size="32.8" fill="#000">=0.99</text>
<text transform="translate(524.29,484.90) scale(0.3902,0.3374)" font-family="Liberation Serif" font-weight="normal" font-style="italic" font-size="100.0" >E</text>
<text transform="translate(552.30,487.00) scale(1,1.045)" font-family="Liberation Sans" font-weight="normal" font-size="32.8" fill="#000">=</text>
<text transform="translate(579.72,487.00) scale(1,1.045)" font-family="Liberation Sans" font-weight="normal" font-size="32.8" fill="#000">0.24</text>
<path d="M668.90,466.25 L668.71,466.08 L668.52,465.91 L668.32,465.70 L668.10,465.47 L667.85,465.24 L667.58,465.00 L667.26,464.77 L666.91,464.57 L666.57,464.44 L666.24,464.34 L665.91,464.28 L665.58,464.24 L665.25,464.22 L664.92,464.22 L664.57,464.22 L664.22,464.24 L663.83,464.25 L663.41,464.27 L662.96,464.30 L662.48,464.34 L662.00,464.40 L661.50,464.48 L661.01,464.57 L660.53,464.70 L660.07,464.84 L659.60,464.99 L659.14,465.17 L658.68,465.36 L658.22,465.58 L657.77,465.83 L657.34,466.10 L656.92,466.41 L656.53,466.75 L656.16,467.11 L655.81,467.50 L655.48,467.90 L655.18,468.32 L654.91,468.75 L654.68,469.20 L654.49,469.66 L654.35,470.14 L654.26,470.63 L654.23,471.11 L654.24,471.59 L654.29,472.05 L654.39,472.50 L654.53,472.94 L654.72,473.37 L654.98,473.79 L655.29,474.15 L655.62,474.45 L655.97,474.71 L656.32,474.91 L656.66,475.09 L657.00,475.24 L657.35,475.38 L657.74,475.51 L658.13,475.61 L658.50,475.67 L658.86,475.70 L659.19,475.73 L659.50,475.75 L659.80,475.77 L660.09,475.80 L660.51,473.95 L660.20,473.84 L659.87,473.75 L659.56,473.66 L659.28,473.58 L659.02,473.49 L658.80,473.40 L658.63,473.30 L658.49,473.19 L658.32,473.05 L658.15,472.88 L658.00,472.71 L657.88,472.55 L657.79,472.39 L657.73,472.26 L657.71,472.15 L657.71,472.07 L657.70,471.96 L657.68,471.81 L657.68,471.64 L657.68,471.45 L657.69,471.26 L657.71,471.07 L657.74,470.88 L657.78,470.69 L657.84,470.47 L657.94,470.21 L658.05,469.92 L658.20,469.61 L658.36,469.31 L658.53,469.00 L658.72,468.72 L658.92,468.46 L659.13,468.22 L659.37,467.97 L659.64,467.72 L659.94,467.48 L660.25,467.24 L660.58,467.03 L660.92,466.83 L661.26,466.65 L661.60,466.50 L661.97,466.37 L662.36,466.26 L662.77,466.16 L663.18,466.08 L663.58,466.01 L663.96,465.97 L664.31,465.94 L664.62,465.92 L664.90,465.92 L665.14,465.94 L665.36,465.97 L665.54,466.01 L665.71,466.07 L665.85,466.14 L665.97,466.23 L666.07,466.32 L666.16,466.44 L666.26,466.60 L666.38,466.80 L666.51,467.04 L666.65,467.30 L666.82,467.58 L667.00,467.84 Z " fill="#000"/>
<path d="M660.16,474.23 L659.70,474.27 L659.24,474.29 L658.77,474.32 L658.28,474.35 L657.77,474.39 L657.24,474.45 L656.69,474.54 L656.14,474.67 L655.60,474.81 L655.04,474.97 L654.47,475.16 L653.90,475.37 L653.32,475.61 L652.75,475.89 L652.19,476.22 L651.67,476.60 L651.20,477.01 L650.75,477.46 L650.34,477.94 L649.96,478.46 L649.62,479.01 L649.34,479.59 L649.11,480.20 L648.97,480.85 L648.92,481.51 L648.95,482.16 L649.06,482.79 L649.23,483.40 L649.47,484.00 L649.77,484.56 L650.13,485.10 L650.55,485.59 L651.03,486.01 L651.55,486.37 L652.11,486.67 L652.69,486.93 L653.29,487.14 L653.89,487.31 L654.50,487.44 L655.11,487.54 L655.73,487.59 L656.35,487.59 L656.99,487.56 L657.62,487.50 L658.24,487.41 L658.86,487.30 L659.46,487.17 L660.04,487.02 L660.62,486.83 L661.19,486.61 L661.74,486.36 L662.28,486.10 L662.79,485.82 L663.28,485.54 L663.73,485.27 L664.16,484.99 L664.59,484.69 L664.99,484.37 L665.36,484.04 L665.70,483.72 L666.01,483.42 L666.31,483.12 L666.60,482.85 L666.90,482.57 L664.56,480.33 L664.26,480.66 L663.97,481.00 L663.70,481.33 L663.44,481.64 L663.19,481.93 L662.93,482.21 L662.67,482.48 L662.38,482.76 L662.04,483.07 L661.68,483.41 L661.31,483.74 L660.93,484.06 L660.55,484.37 L660.16,484.64 L659.77,484.86 L659.37,485.04 L658.92,485.19 L658.43,485.31 L657.92,485.40 L657.41,485.46 L656.90,485.49 L656.41,485.47 L655.96,485.41 L655.57,485.31 L655.21,485.16 L654.85,484.95 L654.51,484.70 L654.19,484.42 L653.92,484.13 L653.69,483.84 L653.51,483.57 L653.40,483.34 L653.32,483.13 L653.25,482.89 L653.20,482.64 L653.16,482.37 L653.13,482.10 L653.13,481.85 L653.14,481.61 L653.15,481.42 L653.18,481.22 L653.23,480.96 L653.31,480.66 L653.42,480.33 L653.56,479.99 L653.72,479.65 L653.91,479.32 L654.10,479.02 L654.31,478.74 L654.59,478.45 L654.91,478.15 L655.28,477.85 L655.68,477.55 L656.09,477.28 L656.52,477.02 L656.92,476.80 L657.30,476.63 L657.69,476.49 L658.10,476.38 L658.54,476.28 L658.99,476.20 L659.47,476.11 L659.95,476.02 L660.43,475.91 Z " fill="#000"/>
<path d="M658.14,476.01 L658.59,475.98 L659.04,475.96 L659.49,475.93 L659.94,475.91 L660.39,475.88 L660.83,475.85 L661.27,475.82 L661.71,475.79 L662.14,475.75 L662.56,475.72 L662.99,475.68 L663.40,475.64 L663.82,475.60 L664.24,475.56 L664.65,475.51 L665.07,475.47 L665.04,473.96 L664.62,473.94 L664.20,473.92 L663.78,473.90 L663.36,473.87 L662.94,473.85 L662.52,473.83 L662.09,473.82 L661.66,473.80 L661.23,473.79 L660.78,473.78 L660.34,473.77 L659.89,473.76 L659.44,473.76 L658.99,473.75 L658.54,473.74 L658.09,473.74 Z " fill="#000"/>
<circle cx="668.74" cy="467.94" r="2.38" fill="#000"/>
<circle cx="665.81" cy="481.22" r="1.72" fill="#000"/>
<circle cx="663.9" cy="455.8" r="2.6" fill="#000"/>
<text transform="translate(674.54,488.60) scale(1,1.045)" font-family="Liberation Sans" font-weight="normal" font-size="34.0" fill="#000">+</text>
<path transform="translate(694.40,488.60)" d="M9.68,0.00 L12.67,0.00 L12.67,-24.34 L10.79,-24.34 L10.33,-23.44 L9.60,-22.51 L8.50,-21.45 L7.14,-20.39 L5.48,-19.39 L3.70,-18.43 L3.70,-15.74 L5.28,-16.44 L6.81,-17.27 L8.30,-18.16 L9.68,-19.12 Z" fill="#000"/>
<text transform="translate(713.30,488.60) scale(1,1.045)" font-family="Liberation Sans" font-weight="normal" font-size="34.0" fill="#000">.95</text>
<text transform="translate(580.31,533.80) scale(1,1.045)" font-family="Liberation Sans" font-weight="normal" font-size="32.8" fill="#000">R</text>
<text transform="translate(604.74,520.00) scale(1,1.045)" font-family="Liberation Sans" font-weight="normal" font-size="21" fill="#000">2</text>
<text transform="translate(617.20,533.80) scale(1,1.045)" font-family="Liberation Sans" font-weight="normal" font-size="32.8" fill="#000">=0.97</text>
<path d="M430.43,1048.84 L430.25,1048.68 L430.09,1048.52 L429.91,1048.33 L429.70,1048.12 L429.48,1047.89 L429.23,1047.67 L428.95,1047.45 L428.64,1047.27 L428.33,1047.14 L428.03,1047.05 L427.73,1046.99 L427.44,1046.96 L427.14,1046.94 L426.84,1046.94 L426.53,1046.94 L426.21,1046.95 L425.86,1046.97 L425.48,1046.99 L425.07,1047.01 L424.65,1047.05 L424.21,1047.11 L423.76,1047.18 L423.32,1047.27 L422.89,1047.38 L422.47,1047.52 L422.05,1047.66 L421.64,1047.83 L421.22,1048.01 L420.81,1048.22 L420.40,1048.45 L420.01,1048.71 L419.64,1048.99 L419.29,1049.31 L418.95,1049.65 L418.63,1050.01 L418.34,1050.39 L418.07,1050.79 L417.82,1051.19 L417.62,1051.61 L417.45,1052.05 L417.32,1052.50 L417.24,1052.96 L417.21,1053.41 L417.22,1053.86 L417.27,1054.29 L417.36,1054.71 L417.48,1055.12 L417.65,1055.53 L417.89,1055.92 L418.17,1056.26 L418.47,1056.55 L418.78,1056.78 L419.09,1056.98 L419.41,1057.14 L419.71,1057.29 L420.03,1057.42 L420.37,1057.54 L420.73,1057.63 L421.06,1057.68 L421.38,1057.72 L421.68,1057.74 L421.96,1057.76 L422.23,1057.78 L422.49,1057.81 L422.87,1056.07 L422.59,1055.97 L422.29,1055.88 L422.02,1055.80 L421.76,1055.72 L421.53,1055.64 L421.33,1055.55 L421.18,1055.46 L421.05,1055.36 L420.90,1055.22 L420.74,1055.07 L420.61,1054.91 L420.50,1054.75 L420.42,1054.61 L420.37,1054.48 L420.35,1054.39 L420.35,1054.31 L420.34,1054.21 L420.32,1054.06 L420.32,1053.90 L420.32,1053.73 L420.33,1053.55 L420.35,1053.37 L420.37,1053.19 L420.41,1053.01 L420.47,1052.81 L420.55,1052.56 L420.66,1052.29 L420.78,1052.00 L420.93,1051.71 L421.09,1051.43 L421.26,1051.16 L421.43,1050.92 L421.62,1050.69 L421.84,1050.46 L422.09,1050.22 L422.35,1049.99 L422.64,1049.78 L422.94,1049.57 L423.24,1049.38 L423.54,1049.22 L423.85,1049.08 L424.18,1048.96 L424.54,1048.85 L424.91,1048.76 L425.28,1048.68 L425.64,1048.62 L425.98,1048.58 L426.29,1048.55 L426.57,1048.54 L426.82,1048.54 L427.04,1048.55 L427.24,1048.58 L427.41,1048.62 L427.55,1048.68 L427.68,1048.74 L427.79,1048.82 L427.88,1048.91 L427.96,1049.02 L428.05,1049.17 L428.16,1049.36 L428.27,1049.58 L428.40,1049.83 L428.56,1050.09 L428.71,1050.34 Z " fill="#000"/>
<path d="M422.56,1056.33 L422.14,1056.37 L421.73,1056.39 L421.30,1056.42 L420.86,1056.44 L420.40,1056.48 L419.92,1056.54 L419.43,1056.63 L418.93,1056.74 L418.44,1056.88 L417.95,1057.03 L417.43,1057.20 L416.91,1057.40 L416.39,1057.63 L415.88,1057.89 L415.38,1058.20 L414.91,1058.56 L414.48,1058.95 L414.08,1059.37 L413.71,1059.82 L413.36,1060.30 L413.06,1060.82 L412.80,1061.36 L412.60,1061.94 L412.47,1062.55 L412.43,1063.17 L412.46,1063.78 L412.55,1064.37 L412.71,1064.95 L412.92,1065.51 L413.19,1066.04 L413.51,1066.54 L413.90,1067.00 L414.33,1067.40 L414.80,1067.73 L415.30,1068.02 L415.82,1068.26 L416.36,1068.46 L416.91,1068.62 L417.46,1068.74 L418.01,1068.83 L418.56,1068.87 L419.13,1068.88 L419.69,1068.85 L420.26,1068.80 L420.83,1068.71 L421.38,1068.61 L421.92,1068.49 L422.44,1068.34 L422.97,1068.16 L423.48,1067.96 L423.98,1067.72 L424.46,1067.48 L424.92,1067.22 L425.36,1066.96 L425.77,1066.70 L426.16,1066.44 L426.55,1066.16 L426.91,1065.85 L427.24,1065.55 L427.54,1065.25 L427.83,1064.96 L428.10,1064.68 L428.35,1064.43 L428.63,1064.17 L426.52,1062.06 L426.25,1062.37 L425.99,1062.69 L425.74,1063.00 L425.51,1063.29 L425.28,1063.57 L425.05,1063.83 L424.82,1064.08 L424.55,1064.35 L424.25,1064.64 L423.92,1064.95 L423.59,1065.27 L423.25,1065.57 L422.91,1065.85 L422.56,1066.11 L422.21,1066.32 L421.84,1066.49 L421.44,1066.62 L421.00,1066.74 L420.54,1066.83 L420.07,1066.88 L419.61,1066.90 L419.17,1066.89 L418.77,1066.83 L418.42,1066.74 L418.10,1066.59 L417.77,1066.40 L417.46,1066.17 L417.18,1065.90 L416.93,1065.63 L416.72,1065.36 L416.56,1065.10 L416.46,1064.89 L416.39,1064.69 L416.33,1064.47 L416.28,1064.23 L416.24,1063.98 L416.22,1063.72 L416.22,1063.49 L416.23,1063.27 L416.24,1063.09 L416.26,1062.90 L416.31,1062.66 L416.38,1062.37 L416.48,1062.06 L416.61,1061.74 L416.75,1061.42 L416.92,1061.11 L417.09,1060.83 L417.29,1060.57 L417.53,1060.30 L417.82,1060.01 L418.16,1059.73 L418.52,1059.45 L418.89,1059.20 L419.27,1058.96 L419.64,1058.75 L419.98,1058.59 L420.33,1058.46 L420.70,1058.35 L421.09,1058.26 L421.50,1058.18 L421.93,1058.10 L422.37,1058.02 L422.80,1057.91 Z " fill="#000"/>
<path d="M420.74,1058.01 L421.14,1057.98 L421.54,1057.96 L421.95,1057.93 L422.35,1057.91 L422.76,1057.88 L423.16,1057.86 L423.56,1057.83 L423.95,1057.80 L424.34,1057.77 L424.72,1057.73 L425.10,1057.70 L425.48,1057.66 L425.85,1057.62 L426.23,1057.58 L426.60,1057.54 L426.98,1057.50 L426.95,1056.08 L426.57,1056.06 L426.19,1056.04 L425.82,1056.02 L425.44,1056.00 L425.06,1055.98 L424.68,1055.96 L424.30,1055.95 L423.91,1055.93 L423.51,1055.92 L423.12,1055.91 L422.71,1055.90 L422.31,1055.90 L421.91,1055.89 L421.50,1055.89 L421.09,1055.88 L420.69,1055.87 Z " fill="#000"/>
<circle cx="430.29" cy="1050.43" r="2.19" fill="#000"/>
<circle cx="427.64" cy="1062.89" r="1.58" fill="#000"/>
<text transform="translate(433.87,1078.04) scale(0.1647,0.2556)" font-family="Liberation Serif" font-weight="normal" font-style="normal" font-size="100.0" >U</text>
<text transform="translate(447.80,1070.80) scale(1,1.045)" font-family="Liberation Sans" font-weight="normal" font-size="32.8" fill="#000">=0.87</text>
<text transform="translate(532.79,1070.80) scale(1,1.045)" font-family="Liberation Sans" font-weight="normal" font-size="32.8" fill="#000">l</text>
<text transform="translate(541.12,1070.80) scale(1,1.045)" font-family="Liberation Sans" font-weight="normal" font-size="32.8" fill="#000">n</text>
<text transform="translate(559.97,1070.80) scale(1,1.045)" font-family="Liberation Sans" font-weight="normal" font-size="32.8" fill="#000">(</text>
<path d="M599.54,1049.63 L599.35,1049.47 L599.17,1049.29 L598.97,1049.09 L598.75,1048.87 L598.51,1048.63 L598.24,1048.39 L597.93,1048.16 L597.59,1047.97 L597.25,1047.84 L596.93,1047.74 L596.60,1047.68 L596.28,1047.64 L595.96,1047.63 L595.63,1047.62 L595.29,1047.63 L594.94,1047.64 L594.56,1047.65 L594.15,1047.67 L593.70,1047.70 L593.24,1047.75 L592.76,1047.80 L592.28,1047.88 L591.79,1047.97 L591.32,1048.09 L590.87,1048.23 L590.41,1048.39 L589.96,1048.56 L589.50,1048.76 L589.05,1048.98 L588.61,1049.22 L588.19,1049.49 L587.78,1049.79 L587.40,1050.13 L587.03,1050.49 L586.68,1050.87 L586.36,1051.27 L586.07,1051.69 L585.80,1052.11 L585.58,1052.56 L585.39,1053.02 L585.25,1053.49 L585.17,1053.98 L585.13,1054.46 L585.14,1054.93 L585.20,1055.39 L585.29,1055.83 L585.43,1056.26 L585.62,1056.69 L585.87,1057.10 L586.18,1057.47 L586.50,1057.77 L586.84,1058.02 L587.19,1058.22 L587.53,1058.40 L587.86,1058.55 L588.20,1058.69 L588.58,1058.82 L588.97,1058.91 L589.33,1058.97 L589.68,1059.01 L590.01,1059.03 L590.32,1059.05 L590.60,1059.07 L590.89,1059.10 L591.30,1057.27 L590.99,1057.16 L590.67,1057.07 L590.37,1056.98 L590.09,1056.90 L589.84,1056.81 L589.63,1056.72 L589.46,1056.62 L589.32,1056.51 L589.15,1056.37 L588.99,1056.21 L588.84,1056.04 L588.72,1055.88 L588.63,1055.72 L588.58,1055.59 L588.55,1055.49 L588.55,1055.41 L588.54,1055.30 L588.53,1055.15 L588.52,1054.98 L588.52,1054.79 L588.53,1054.60 L588.55,1054.41 L588.58,1054.22 L588.62,1054.04 L588.69,1053.82 L588.77,1053.56 L588.89,1053.27 L589.03,1052.97 L589.19,1052.66 L589.36,1052.36 L589.55,1052.08 L589.74,1051.83 L589.94,1051.58 L590.18,1051.34 L590.45,1051.09 L590.74,1050.85 L591.05,1050.62 L591.37,1050.40 L591.71,1050.21 L592.04,1050.03 L592.37,1049.89 L592.73,1049.75 L593.12,1049.64 L593.52,1049.54 L593.93,1049.46 L594.32,1049.40 L594.69,1049.36 L595.03,1049.33 L595.34,1049.31 L595.61,1049.31 L595.85,1049.33 L596.06,1049.36 L596.25,1049.40 L596.41,1049.46 L596.55,1049.53 L596.67,1049.61 L596.76,1049.70 L596.85,1049.82 L596.95,1049.98 L597.07,1050.18 L597.19,1050.42 L597.34,1050.67 L597.50,1050.95 L597.67,1051.21 Z " fill="#000"/>
<path d="M590.96,1057.54 L590.51,1057.58 L590.06,1057.61 L589.59,1057.63 L589.11,1057.66 L588.61,1057.70 L588.09,1057.76 L587.55,1057.85 L587.01,1057.98 L586.48,1058.12 L585.94,1058.28 L585.38,1058.46 L584.81,1058.67 L584.24,1058.91 L583.68,1059.19 L583.13,1059.52 L582.62,1059.89 L582.16,1060.30 L581.72,1060.75 L581.31,1061.23 L580.94,1061.74 L580.61,1062.28 L580.33,1062.86 L580.11,1063.47 L579.97,1064.11 L579.92,1064.76 L579.95,1065.40 L580.05,1066.03 L580.22,1066.64 L580.46,1067.23 L580.75,1067.79 L581.11,1068.32 L581.52,1068.80 L581.99,1069.22 L582.51,1069.58 L583.05,1069.88 L583.62,1070.13 L584.21,1070.34 L584.81,1070.51 L585.41,1070.64 L586.00,1070.73 L586.61,1070.78 L587.22,1070.79 L587.84,1070.76 L588.46,1070.70 L589.08,1070.61 L589.68,1070.50 L590.27,1070.37 L590.84,1070.22 L591.41,1070.04 L591.97,1069.81 L592.51,1069.57 L593.04,1069.31 L593.54,1069.04 L594.02,1068.76 L594.47,1068.49 L594.89,1068.21 L595.31,1067.91 L595.71,1067.59 L596.07,1067.27 L596.40,1066.96 L596.71,1066.65 L597.00,1066.36 L597.28,1066.09 L597.58,1065.81 L595.28,1063.59 L594.99,1063.92 L594.70,1064.26 L594.43,1064.58 L594.18,1064.89 L593.93,1065.18 L593.68,1065.46 L593.43,1065.73 L593.14,1066.00 L592.80,1066.31 L592.45,1066.64 L592.09,1066.97 L591.72,1067.29 L591.34,1067.59 L590.96,1067.86 L590.58,1068.09 L590.18,1068.26 L589.74,1068.41 L589.26,1068.53 L588.76,1068.62 L588.25,1068.68 L587.75,1068.70 L587.28,1068.69 L586.84,1068.63 L586.45,1068.53 L586.10,1068.37 L585.75,1068.17 L585.41,1067.92 L585.10,1067.65 L584.83,1067.36 L584.60,1067.07 L584.43,1066.80 L584.32,1066.58 L584.24,1066.37 L584.17,1066.13 L584.12,1065.88 L584.08,1065.61 L584.06,1065.35 L584.05,1065.09 L584.06,1064.86 L584.08,1064.67 L584.10,1064.47 L584.15,1064.22 L584.23,1063.92 L584.34,1063.59 L584.48,1063.25 L584.64,1062.91 L584.82,1062.59 L585.01,1062.30 L585.22,1062.02 L585.48,1061.73 L585.80,1061.43 L586.17,1061.13 L586.56,1060.84 L586.97,1060.57 L587.38,1060.31 L587.78,1060.10 L588.15,1059.92 L588.53,1059.79 L588.94,1059.67 L589.37,1059.58 L589.81,1059.49 L590.28,1059.41 L590.76,1059.32 L591.23,1059.21 Z " fill="#000"/>
<path d="M588.98,1059.31 L589.42,1059.28 L589.86,1059.26 L590.30,1059.23 L590.74,1059.21 L591.18,1059.18 L591.62,1059.15 L592.05,1059.12 L592.48,1059.09 L592.90,1059.06 L593.32,1059.02 L593.73,1058.98 L594.14,1058.94 L594.55,1058.90 L594.96,1058.86 L595.37,1058.82 L595.78,1058.78 L595.75,1057.28 L595.34,1057.26 L594.92,1057.24 L594.51,1057.21 L594.10,1057.19 L593.69,1057.17 L593.28,1057.15 L592.86,1057.13 L592.43,1057.12 L592.01,1057.11 L591.57,1057.10 L591.13,1057.09 L590.69,1057.08 L590.25,1057.08 L589.81,1057.07 L589.37,1057.06 L588.93,1057.06 Z " fill="#000"/>
<circle cx="599.39" cy="1051.31" r="2.35" fill="#000"/>
<circle cx="596.51" cy="1064.47" r="1.69" fill="#000"/>
<circle cx="594.4" cy="1039.0" r="2.7" fill="#000"/>
<text transform="translate(607.60,1070.80) scale(1,1.045)" font-family="Liberation Sans" font-weight="normal" font-size="32.8" fill="#000">+4</text>
<path transform="translate(644.99,1070.80)" d="M9.34,0.00 L12.22,0.00 L12.22,-23.48 L10.41,-23.48 L9.96,-22.61 L9.26,-21.72 L8.20,-20.69 L6.89,-19.67 L5.29,-18.71 L3.57,-17.78 L3.57,-15.18 L5.09,-15.86 L6.57,-16.66 L8.01,-17.52 L9.34,-18.45 Z" fill="#000"/>
<text transform="translate(663.24,1070.80) scale(1,1.045)" font-family="Liberation Sans" font-weight="normal" font-size="32.8" fill="#000">.98</text>
<text transform="translate(711.21,1070.80) scale(1,1.045)" font-family="Liberation Sans" font-weight="normal" font-size="32.8" fill="#000">)</text>
<text transform="translate(727.72,1070.80) scale(1,1.045)" font-family="Liberation Sans" font-weight="normal" font-size="33.4" fill="#000">-3.25</text>
<text transform="translate(511.31,1113.80) scale(1,1.045)" font-family="Liberation Sans" font-weight="normal" font-size="32.8" fill="#000">R</text>
<text transform="translate(534.94,1100.60) scale(1,1.045)" font-family="Liberation Sans" font-weight="normal" font-size="21" fill="#000">2</text>
<text transform="translate(547.70,1113.80) scale(1,1.045)" font-family="Liberation Sans" font-weight="normal" font-size="32.8" fill="#000">=0.99</text>
<path d="M363.88,1214.97 L363.71,1214.82 L363.55,1214.66 L363.37,1214.48 L363.17,1214.28 L362.96,1214.06 L362.72,1213.85 L362.44,1213.64 L362.13,1213.47 L361.83,1213.34 L361.54,1213.26 L361.25,1213.20 L360.96,1213.17 L360.67,1213.15 L360.38,1213.15 L360.08,1213.15 L359.77,1213.16 L359.43,1213.18 L359.06,1213.19 L358.66,1213.22 L358.24,1213.26 L357.81,1213.31 L357.38,1213.38 L356.95,1213.47 L356.53,1213.58 L356.12,1213.70 L355.71,1213.84 L355.31,1214.00 L354.90,1214.18 L354.50,1214.38 L354.10,1214.60 L353.72,1214.84 L353.36,1215.12 L353.02,1215.42 L352.69,1215.75 L352.38,1216.09 L352.09,1216.46 L351.83,1216.84 L351.59,1217.22 L351.39,1217.63 L351.22,1218.04 L351.10,1218.48 L351.02,1218.92 L350.99,1219.35 L351.00,1219.78 L351.05,1220.20 L351.13,1220.60 L351.26,1220.99 L351.43,1221.38 L351.65,1221.75 L351.92,1222.08 L352.22,1222.35 L352.52,1222.58 L352.83,1222.77 L353.13,1222.93 L353.43,1223.06 L353.74,1223.19 L354.07,1223.31 L354.42,1223.39 L354.75,1223.45 L355.06,1223.48 L355.35,1223.50 L355.63,1223.52 L355.88,1223.54 L356.14,1223.56 L356.51,1221.90 L356.23,1221.81 L355.95,1221.72 L355.68,1221.64 L355.43,1221.57 L355.20,1221.49 L355.01,1221.40 L354.86,1221.32 L354.73,1221.22 L354.59,1221.09 L354.44,1220.94 L354.31,1220.79 L354.20,1220.64 L354.12,1220.50 L354.07,1220.38 L354.05,1220.29 L354.05,1220.21 L354.04,1220.11 L354.03,1219.98 L354.02,1219.82 L354.02,1219.66 L354.03,1219.48 L354.05,1219.31 L354.08,1219.14 L354.11,1218.97 L354.17,1218.77 L354.25,1218.54 L354.35,1218.28 L354.48,1218.00 L354.62,1217.72 L354.78,1217.45 L354.94,1217.20 L355.11,1216.96 L355.29,1216.74 L355.51,1216.52 L355.75,1216.30 L356.01,1216.08 L356.28,1215.87 L356.57,1215.67 L356.87,1215.49 L357.17,1215.34 L357.47,1215.20 L357.79,1215.08 L358.14,1214.98 L358.50,1214.89 L358.86,1214.82 L359.21,1214.76 L359.54,1214.72 L359.84,1214.69 L360.12,1214.68 L360.36,1214.68 L360.58,1214.69 L360.77,1214.72 L360.93,1214.76 L361.07,1214.81 L361.20,1214.88 L361.31,1214.95 L361.39,1215.04 L361.47,1215.14 L361.56,1215.29 L361.67,1215.47 L361.78,1215.68 L361.91,1215.92 L362.06,1216.17 L362.21,1216.40 Z " fill="#000"/>
<path d="M356.21,1222.15 L355.80,1222.18 L355.40,1222.21 L354.98,1222.23 L354.55,1222.26 L354.10,1222.29 L353.64,1222.35 L353.16,1222.43 L352.67,1222.54 L352.20,1222.68 L351.71,1222.82 L351.21,1222.99 L350.70,1223.17 L350.19,1223.39 L349.69,1223.65 L349.20,1223.94 L348.75,1224.28 L348.33,1224.66 L347.94,1225.06 L347.57,1225.49 L347.24,1225.96 L346.95,1226.45 L346.70,1226.97 L346.50,1227.53 L346.37,1228.11 L346.33,1228.70 L346.36,1229.28 L346.45,1229.85 L346.60,1230.41 L346.81,1230.94 L347.07,1231.45 L347.39,1231.93 L347.76,1232.37 L348.18,1232.75 L348.64,1233.07 L349.13,1233.35 L349.64,1233.58 L350.17,1233.77 L350.70,1233.92 L351.23,1234.04 L351.77,1234.12 L352.31,1234.17 L352.86,1234.17 L353.41,1234.15 L353.97,1234.09 L354.52,1234.01 L355.06,1233.91 L355.58,1233.80 L356.10,1233.66 L356.60,1233.49 L357.11,1233.29 L357.59,1233.07 L358.06,1232.83 L358.51,1232.58 L358.94,1232.33 L359.34,1232.08 L359.72,1231.83 L360.09,1231.56 L360.45,1231.27 L360.77,1230.98 L361.07,1230.69 L361.34,1230.42 L361.61,1230.15 L361.86,1229.90 L362.12,1229.66 L360.07,1227.64 L359.81,1227.94 L359.55,1228.25 L359.31,1228.54 L359.08,1228.82 L358.86,1229.08 L358.64,1229.33 L358.41,1229.58 L358.15,1229.83 L357.85,1230.11 L357.53,1230.41 L357.21,1230.71 L356.88,1231.00 L356.55,1231.27 L356.21,1231.51 L355.86,1231.72 L355.51,1231.88 L355.12,1232.01 L354.69,1232.12 L354.24,1232.20 L353.78,1232.26 L353.34,1232.28 L352.91,1232.26 L352.52,1232.21 L352.17,1232.12 L351.86,1231.98 L351.54,1231.80 L351.24,1231.57 L350.96,1231.32 L350.72,1231.06 L350.52,1230.80 L350.36,1230.55 L350.26,1230.35 L350.19,1230.16 L350.13,1229.95 L350.09,1229.71 L350.05,1229.47 L350.03,1229.23 L350.03,1229.00 L350.03,1228.80 L350.05,1228.62 L350.07,1228.44 L350.11,1228.21 L350.18,1227.94 L350.28,1227.64 L350.40,1227.33 L350.55,1227.02 L350.71,1226.73 L350.88,1226.46 L351.07,1226.21 L351.31,1225.95 L351.59,1225.68 L351.92,1225.40 L352.27,1225.14 L352.63,1224.89 L353.00,1224.67 L353.36,1224.47 L353.69,1224.31 L354.03,1224.19 L354.40,1224.08 L354.78,1224.00 L355.18,1223.92 L355.59,1223.85 L356.02,1223.76 L356.44,1223.67 Z " fill="#000"/>
<path d="M354.43,1223.75 L354.82,1223.73 L355.22,1223.71 L355.61,1223.68 L356.01,1223.66 L356.40,1223.64 L356.79,1223.61 L357.18,1223.58 L357.56,1223.56 L357.94,1223.52 L358.31,1223.49 L358.68,1223.46 L359.05,1223.42 L359.42,1223.38 L359.78,1223.35 L360.15,1223.31 L360.52,1223.27 L360.49,1221.91 L360.12,1221.89 L359.75,1221.87 L359.38,1221.85 L359.02,1221.83 L358.65,1221.81 L358.28,1221.80 L357.90,1221.78 L357.52,1221.77 L357.14,1221.76 L356.75,1221.75 L356.36,1221.74 L355.97,1221.73 L355.57,1221.73 L355.17,1221.72 L354.78,1221.72 L354.39,1221.71 Z " fill="#000"/>
<circle cx="363.74" cy="1216.50" r="2.12" fill="#000"/>
<circle cx="361.16" cy="1228.44" r="1.53" fill="#000"/>
<text transform="translate(365.86,1244.00) scale(0.2474,0.2534)" font-family="Liberation Serif" font-weight="normal" font-style="normal" font-size="100.0" >P</text>
<text transform="translate(386.70,1238.70) scale(1,1.045)" font-family="Liberation Sans" font-weight="normal" font-size="32.8" fill="#000">=0.009</text>
<path d="M516.37,1216.91 L516.19,1216.75 L516.01,1216.58 L515.81,1216.37 L515.60,1216.15 L515.36,1215.92 L515.09,1215.69 L514.78,1215.46 L514.45,1215.27 L514.12,1215.14 L513.80,1215.05 L513.48,1214.98 L513.16,1214.95 L512.84,1214.93 L512.51,1214.93 L512.18,1214.93 L511.84,1214.94 L511.46,1214.96 L511.05,1214.98 L510.62,1215.01 L510.16,1215.05 L509.69,1215.10 L509.21,1215.18 L508.73,1215.27 L508.27,1215.39 L507.82,1215.53 L507.37,1215.68 L506.92,1215.85 L506.47,1216.05 L506.03,1216.26 L505.59,1216.50 L505.17,1216.77 L504.77,1217.07 L504.39,1217.40 L504.03,1217.75 L503.69,1218.13 L503.37,1218.53 L503.08,1218.94 L502.82,1219.36 L502.60,1219.80 L502.42,1220.25 L502.28,1220.72 L502.20,1221.20 L502.16,1221.67 L502.17,1222.14 L502.23,1222.59 L502.32,1223.03 L502.46,1223.45 L502.64,1223.87 L502.89,1224.28 L503.19,1224.64 L503.51,1224.94 L503.85,1225.18 L504.19,1225.39 L504.52,1225.56 L504.85,1225.71 L505.19,1225.85 L505.56,1225.97 L505.94,1226.06 L506.30,1226.12 L506.65,1226.16 L506.97,1226.18 L507.27,1226.20 L507.56,1226.22 L507.84,1226.25 L508.24,1224.44 L507.94,1224.34 L507.63,1224.25 L507.33,1224.16 L507.05,1224.08 L506.81,1223.99 L506.59,1223.90 L506.43,1223.81 L506.29,1223.70 L506.13,1223.56 L505.96,1223.40 L505.82,1223.23 L505.70,1223.07 L505.61,1222.92 L505.56,1222.79 L505.54,1222.69 L505.53,1222.61 L505.52,1222.50 L505.51,1222.35 L505.50,1222.18 L505.50,1222.00 L505.51,1221.81 L505.53,1221.62 L505.56,1221.44 L505.61,1221.26 L505.67,1221.04 L505.75,1220.79 L505.87,1220.50 L506.01,1220.20 L506.16,1219.90 L506.33,1219.60 L506.52,1219.33 L506.70,1219.08 L506.91,1218.84 L507.14,1218.59 L507.41,1218.35 L507.69,1218.11 L508.00,1217.88 L508.32,1217.67 L508.65,1217.48 L508.97,1217.31 L509.30,1217.16 L509.66,1217.03 L510.04,1216.92 L510.44,1216.82 L510.83,1216.74 L511.22,1216.68 L511.59,1216.64 L511.92,1216.61 L512.23,1216.59 L512.50,1216.59 L512.74,1216.61 L512.94,1216.64 L513.12,1216.68 L513.28,1216.74 L513.42,1216.81 L513.54,1216.89 L513.63,1216.98 L513.72,1217.10 L513.82,1217.26 L513.93,1217.45 L514.06,1217.68 L514.20,1217.94 L514.36,1218.21 L514.53,1218.47 Z " fill="#000"/>
<path d="M507.91,1224.71 L507.46,1224.75 L507.02,1224.78 L506.56,1224.80 L506.08,1224.83 L505.59,1224.87 L505.08,1224.93 L504.55,1225.02 L504.02,1225.14 L503.49,1225.29 L502.95,1225.44 L502.40,1225.62 L501.84,1225.83 L501.28,1226.07 L500.73,1226.34 L500.19,1226.66 L499.69,1227.03 L499.23,1227.44 L498.80,1227.88 L498.40,1228.35 L498.03,1228.85 L497.70,1229.39 L497.43,1229.96 L497.21,1230.56 L497.07,1231.20 L497.02,1231.84 L497.05,1232.47 L497.15,1233.09 L497.32,1233.69 L497.55,1234.27 L497.84,1234.83 L498.19,1235.35 L498.60,1235.83 L499.06,1236.24 L499.57,1236.59 L500.11,1236.89 L500.67,1237.14 L501.25,1237.34 L501.84,1237.51 L502.43,1237.64 L503.02,1237.73 L503.62,1237.78 L504.22,1237.79 L504.83,1237.76 L505.44,1237.70 L506.05,1237.61 L506.65,1237.51 L507.23,1237.38 L507.79,1237.23 L508.35,1237.04 L508.91,1236.82 L509.44,1236.58 L509.96,1236.33 L510.46,1236.06 L510.93,1235.78 L511.37,1235.51 L511.79,1235.24 L512.20,1234.95 L512.59,1234.63 L512.95,1234.32 L513.27,1234.00 L513.58,1233.70 L513.86,1233.42 L514.14,1233.15 L514.44,1232.88 L512.17,1230.68 L511.88,1231.01 L511.60,1231.34 L511.34,1231.66 L511.08,1231.96 L510.84,1232.25 L510.59,1232.53 L510.34,1232.79 L510.06,1233.06 L509.73,1233.37 L509.38,1233.70 L509.02,1234.02 L508.66,1234.34 L508.29,1234.63 L507.91,1234.90 L507.53,1235.12 L507.14,1235.29 L506.71,1235.43 L506.24,1235.56 L505.74,1235.65 L505.24,1235.71 L504.75,1235.73 L504.28,1235.71 L503.84,1235.65 L503.46,1235.55 L503.11,1235.40 L502.77,1235.20 L502.44,1234.96 L502.13,1234.69 L501.86,1234.40 L501.64,1234.12 L501.47,1233.85 L501.36,1233.63 L501.28,1233.42 L501.22,1233.19 L501.16,1232.94 L501.13,1232.68 L501.10,1232.42 L501.10,1232.17 L501.11,1231.94 L501.12,1231.75 L501.15,1231.56 L501.19,1231.30 L501.27,1231.01 L501.38,1230.69 L501.51,1230.35 L501.67,1230.02 L501.85,1229.69 L502.04,1229.41 L502.25,1229.13 L502.51,1228.85 L502.82,1228.55 L503.18,1228.25 L503.57,1227.97 L503.97,1227.70 L504.38,1227.45 L504.77,1227.24 L505.14,1227.06 L505.52,1226.93 L505.92,1226.82 L506.34,1226.72 L506.78,1226.64 L507.24,1226.56 L507.71,1226.47 L508.17,1226.36 Z " fill="#000"/>
<path d="M505.96,1226.46 L506.39,1226.43 L506.82,1226.41 L507.26,1226.38 L507.69,1226.36 L508.13,1226.33 L508.56,1226.30 L508.99,1226.27 L509.41,1226.24 L509.82,1226.21 L510.24,1226.17 L510.64,1226.13 L511.05,1226.09 L511.45,1226.05 L511.86,1226.01 L512.26,1225.97 L512.67,1225.93 L512.63,1224.45 L512.22,1224.43 L511.82,1224.41 L511.41,1224.39 L511.01,1224.37 L510.60,1224.35 L510.19,1224.33 L509.78,1224.31 L509.36,1224.30 L508.94,1224.29 L508.51,1224.28 L508.08,1224.27 L507.65,1224.26 L507.21,1224.25 L506.77,1224.25 L506.34,1224.24 L505.91,1224.24 Z " fill="#000"/>
<circle cx="516.22" cy="1218.57" r="2.32" fill="#000"/>
<circle cx="513.38" cy="1231.55" r="1.67" fill="#000"/>
<circle cx="511.5" cy="1206.7" r="2.6" fill="#000"/>
<text transform="translate(524.64,1238.70) scale(1,1.045)" font-family="Liberation Sans" font-weight="normal" font-size="32.8" fill="#000">-4.83</text>
<text transform="translate(600.93,1238.70) scale(1,1.045)" font-family="Liberation Sans" font-weight="normal" font-size="32.8" fill="#000">×</text>
<path transform="translate(619.43,1238.70)" d="M9.34,0.00 L12.22,0.00 L12.22,-23.48 L10.41,-23.48 L9.96,-22.61 L9.26,-21.72 L8.20,-20.69 L6.89,-19.67 L5.29,-18.71 L3.57,-17.78 L3.57,-15.18 L5.09,-15.86 L6.57,-16.66 L8.01,-17.52 L9.34,-18.45 Z" fill="#000"/>
<text transform="translate(637.67,1238.70) scale(1,1.045)" font-family="Liberation Sans" font-weight="normal" font-size="32.8" fill="#000">0</text>
<text transform="translate(656.47,1225.20) scale(1,1.045)" font-family="Liberation Sans" font-weight="normal" font-size="21" fill="#000">-5</text>
<path d="M691.70,1220.27 L691.52,1220.11 L691.35,1219.94 L691.17,1219.75 L690.96,1219.53 L690.74,1219.30 L690.49,1219.07 L690.20,1218.85 L689.88,1218.67 L689.57,1218.54 L689.26,1218.45 L688.96,1218.39 L688.66,1218.35 L688.36,1218.33 L688.05,1218.33 L687.74,1218.34 L687.42,1218.35 L687.06,1218.36 L686.67,1218.38 L686.26,1218.41 L685.83,1218.45 L685.38,1218.51 L684.93,1218.58 L684.48,1218.67 L684.04,1218.79 L683.62,1218.92 L683.20,1219.07 L682.77,1219.24 L682.35,1219.43 L681.93,1219.64 L681.52,1219.87 L681.12,1220.13 L680.75,1220.43 L680.39,1220.75 L680.05,1221.10 L679.72,1221.46 L679.42,1221.85 L679.15,1222.25 L678.90,1222.67 L678.69,1223.09 L678.52,1223.54 L678.39,1224.00 L678.31,1224.46 L678.28,1224.93 L678.29,1225.38 L678.34,1225.82 L678.43,1226.25 L678.56,1226.67 L678.73,1227.08 L678.97,1227.48 L679.25,1227.83 L679.56,1228.12 L679.87,1228.36 L680.19,1228.56 L680.51,1228.73 L680.82,1228.87 L681.14,1229.01 L681.49,1229.13 L681.85,1229.22 L682.19,1229.28 L682.51,1229.32 L682.82,1229.34 L683.11,1229.36 L683.37,1229.38 L683.64,1229.40 L684.02,1227.64 L683.74,1227.54 L683.44,1227.45 L683.16,1227.36 L682.90,1227.28 L682.66,1227.20 L682.46,1227.11 L682.31,1227.02 L682.17,1226.91 L682.02,1226.77 L681.87,1226.62 L681.73,1226.45 L681.62,1226.30 L681.54,1226.15 L681.49,1226.02 L681.47,1225.92 L681.46,1225.84 L681.45,1225.74 L681.44,1225.59 L681.43,1225.43 L681.43,1225.25 L681.44,1225.07 L681.46,1224.88 L681.49,1224.70 L681.53,1224.52 L681.59,1224.31 L681.67,1224.06 L681.78,1223.78 L681.91,1223.49 L682.06,1223.20 L682.22,1222.91 L682.39,1222.63 L682.57,1222.39 L682.76,1222.16 L682.98,1221.92 L683.23,1221.68 L683.50,1221.45 L683.79,1221.22 L684.09,1221.02 L684.40,1220.83 L684.71,1220.66 L685.02,1220.52 L685.36,1220.39 L685.72,1220.28 L686.09,1220.19 L686.47,1220.11 L686.83,1220.05 L687.18,1220.00 L687.50,1219.98 L687.78,1219.96 L688.04,1219.96 L688.26,1219.97 L688.46,1220.00 L688.63,1220.05 L688.78,1220.10 L688.91,1220.17 L689.02,1220.25 L689.11,1220.34 L689.19,1220.45 L689.29,1220.61 L689.39,1220.80 L689.51,1221.03 L689.64,1221.28 L689.80,1221.54 L689.96,1221.79 Z " fill="#000"/>
<path d="M683.71,1227.90 L683.28,1227.94 L682.86,1227.96 L682.43,1227.99 L681.98,1228.02 L681.52,1228.05 L681.03,1228.11 L680.53,1228.20 L680.03,1228.32 L679.53,1228.46 L679.03,1228.62 L678.51,1228.79 L677.98,1228.99 L677.45,1229.22 L676.93,1229.49 L676.42,1229.81 L675.94,1230.17 L675.51,1230.57 L675.10,1230.99 L674.72,1231.46 L674.38,1231.95 L674.07,1232.47 L673.81,1233.03 L673.60,1233.62 L673.47,1234.24 L673.43,1234.87 L673.45,1235.48 L673.55,1236.09 L673.71,1236.68 L673.93,1237.25 L674.20,1237.79 L674.53,1238.30 L674.92,1238.77 L675.35,1239.17 L675.83,1239.52 L676.34,1239.81 L676.87,1240.05 L677.42,1240.25 L677.98,1240.41 L678.53,1240.54 L679.09,1240.63 L679.65,1240.68 L680.23,1240.68 L680.80,1240.65 L681.38,1240.60 L681.95,1240.51 L682.51,1240.41 L683.06,1240.28 L683.59,1240.13 L684.12,1239.96 L684.65,1239.74 L685.15,1239.51 L685.64,1239.25 L686.11,1238.99 L686.56,1238.72 L686.97,1238.46 L687.37,1238.20 L687.76,1237.91 L688.13,1237.60 L688.46,1237.29 L688.77,1236.98 L689.06,1236.69 L689.33,1236.41 L689.59,1236.15 L689.87,1235.88 L687.73,1233.74 L687.46,1234.06 L687.19,1234.38 L686.94,1234.69 L686.70,1234.99 L686.47,1235.27 L686.24,1235.54 L686.00,1235.80 L685.73,1236.07 L685.42,1236.36 L685.09,1236.68 L684.75,1237.00 L684.41,1237.31 L684.06,1237.60 L683.71,1237.86 L683.35,1238.07 L682.98,1238.24 L682.57,1238.38 L682.13,1238.50 L681.66,1238.59 L681.19,1238.65 L680.72,1238.67 L680.27,1238.65 L679.87,1238.60 L679.51,1238.50 L679.18,1238.35 L678.85,1238.16 L678.54,1237.92 L678.25,1237.65 L678.00,1237.37 L677.79,1237.09 L677.63,1236.84 L677.52,1236.62 L677.45,1236.42 L677.39,1236.19 L677.34,1235.94 L677.30,1235.69 L677.28,1235.43 L677.28,1235.19 L677.28,1234.97 L677.30,1234.78 L677.32,1234.59 L677.37,1234.34 L677.44,1234.06 L677.54,1233.74 L677.67,1233.41 L677.82,1233.08 L677.99,1232.77 L678.16,1232.49 L678.36,1232.22 L678.61,1231.94 L678.90,1231.65 L679.24,1231.36 L679.61,1231.08 L679.99,1230.82 L680.37,1230.58 L680.74,1230.37 L681.09,1230.20 L681.45,1230.07 L681.82,1229.96 L682.22,1229.87 L682.64,1229.79 L683.07,1229.71 L683.52,1229.62 L683.95,1229.51 Z " fill="#000"/>
<path d="M681.86,1229.61 L682.27,1229.58 L682.68,1229.56 L683.09,1229.53 L683.50,1229.51 L683.91,1229.48 L684.32,1229.46 L684.72,1229.43 L685.12,1229.40 L685.51,1229.36 L685.90,1229.33 L686.29,1229.29 L686.67,1229.25 L687.05,1229.21 L687.43,1229.17 L687.81,1229.13 L688.20,1229.10 L688.16,1227.65 L687.78,1227.63 L687.40,1227.61 L687.02,1227.59 L686.63,1227.56 L686.25,1227.54 L685.86,1227.53 L685.47,1227.51 L685.08,1227.49 L684.68,1227.48 L684.28,1227.47 L683.87,1227.47 L683.46,1227.46 L683.05,1227.45 L682.63,1227.45 L682.22,1227.44 L681.81,1227.43 Z " fill="#000"/>
<circle cx="691.55" cy="1221.89" r="2.23" fill="#000"/>
<circle cx="688.87" cy="1234.59" r="1.60" fill="#000"/>
<circle cx="687.5" cy="1210.6" r="2.6" fill="#000"/>
<text transform="translate(700.67,1224.80) scale(1,1.045)" font-family="Liberation Sans" font-weight="normal" font-size="22.5" fill="#000">2</text>
<text transform="translate(721.10,1238.70) scale(1,1.045)" font-family="Liberation Sans" font-weight="normal" font-size="32.8" fill="#000">+0.092</text>
<text transform="translate(477.41,1283.00) scale(1,1.045)" font-family="Liberation Sans" font-weight="normal" font-size="32.8" fill="#000">R</text>
<text transform="translate(502.24,1268.80) scale(1,1.045)" font-family="Liberation Sans" font-weight="normal" font-size="21" fill="#000">2</text>
<text transform="translate(514.70,1283.00) scale(1,1.045)" font-family="Liberation Sans" font-weight="normal" font-size="32.8" fill="#000">=0.98</text>
</svg>
</body></html>
